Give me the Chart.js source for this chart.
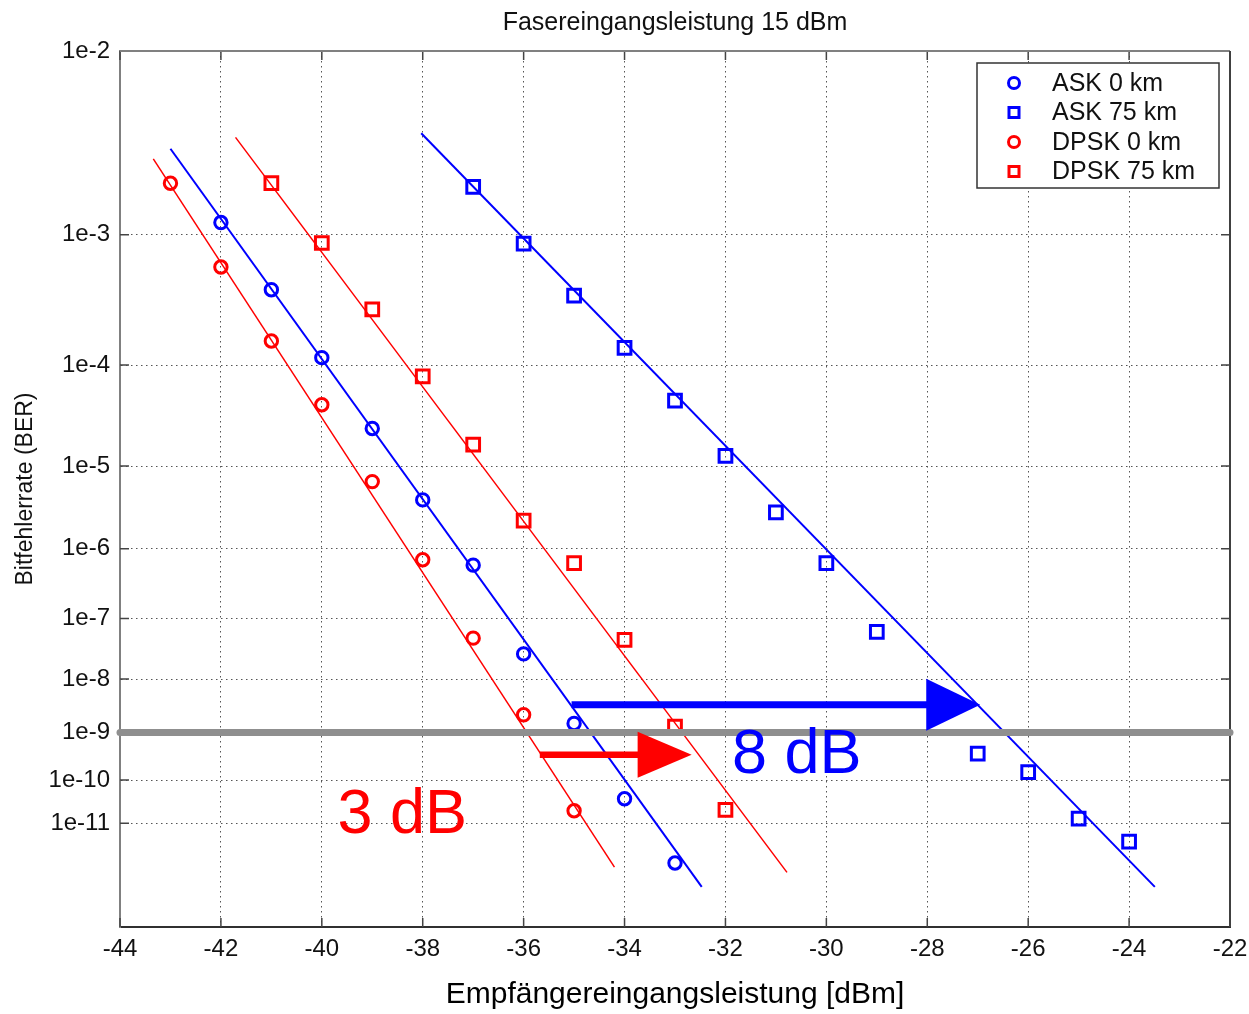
<!DOCTYPE html>
<html><head><meta charset="utf-8">
<script src="https://cdn.jsdelivr.net/npm/chart.js@4.4.1/dist/chart.umd.min.js"></script>
<style>html,body{margin:0;padding:0;background:#fff}#wrap{width:1249px;height:1014px}</style>
</head><body><div id="wrap"><canvas id="c" width="1249" height="1014"></canvas></div>
<script>
// ---------- data ----------
const seriesLabels = ['ASK 0 km', 'ASK 75 km', 'DPSK 0 km', 'DPSK 75 km'];
const askX0   = [-42, -41, -40, -39, -38, -37, -36, -35, -34, -33];
const askBer0 = [1.2e-3, 4.1e-4, 1.16e-4, 2.5e-5, 4.1e-6, 6.0e-7, 2.7e-8, 1.5e-9, 3.8e-11, 9.8e-13];
const askX75   = [-37, -36, -35, -34, -33, -32, -31, -30, -29, -27, -26, -25, -24];
const askBer75 = [2.0e-3, 8.7e-4, 3.7e-4, 1.41e-4, 4.7e-5, 1.29e-5, 2.9e-6, 6.4e-7, 6.2e-8, 3.7e-10, 1.5e-10, 1.3e-11, 3.5e-12];
const dpskX0   = [-43, -42, -41, -40, -39, -38, -37, -36, -35];
const dpskBer0 = [2.1e-3, 6.0e-4, 1.61e-4, 4.3e-5, 6.7e-6, 7.1e-7, 4.9e-8, 2.2e-9, 2.0e-11];
const dpskX75   = [-41, -40, -39, -38, -37, -36, -35, -34, -33, -32];
const dpskBer75 = [2.1e-3, 8.8e-4, 2.9e-4, 7.9e-5, 1.7e-5, 2.3e-6, 6.4e-7, 4.6e-8, 1.3e-9, 2.1e-11];
// fitted lines (start, end)
const askFitX0 = [-43.0, -32.47],  askFitBer0 = [3.3e-3, 2.2e-13];
const askFitX75 = [-38.03, -23.49], askFitBer75 = [4.0e-3, 2.2e-13];
const dpskFitX0 = [-43.34, -34.2], dpskFitBer0 = [2.9e-3, 7.6e-13];
const dpskFitX75 = [-41.71, -30.78], dpskFitBer75 = [3.8e-3, 5.5e-13];
// reference BER line
const refX = [-44, -22], refBer = [1e-9, 1e-9];
// axis
const xRange = [-44, -22];
const axisBerTop = 1e-2, axisBerBottom = 1.48e-14;
const tickBer = [1e-2, 1e-3, 1e-4, 1e-5, 1e-6, 1e-7, 1e-8, 1e-9, 1e-10, 1e-11];
const tickLabels = ['1e-2', '1e-3', '1e-4', '1e-5', '1e-6', '1e-7', '1e-8', '1e-9', '1e-10', '1e-11'];
// annotations (arrows and penalty labels)
const arrowX0 = [-35.05, -35.68];
const arrowX1 = [-26.95, -32.67];
const arrowBer = [3.4e-9, 3.5e-10];
const noteText = ['8 dB', '3 dB'];
const noteX = [-31.87, -39.69];
const noteBer = [1.44e-10, 5.8e-12];

// ---------- helpers ----------
const tf = b => Math.log10(-Math.log10(b));
const pts = (xs, bs) => xs.map((x, i) => ({ x: x, y: tf(bs[i]) }));
const BLUE = '#0000ff', RED = '#ff0000';
const FONT = "'Liberation Sans', Arial, Helvetica, sans-serif";
Chart.defaults.font.family = FONT;

const markerStyles = [
  { style: 'circle', color: BLUE }, { style: 'rect', color: BLUE },
  { style: 'circle', color: RED }, { style: 'rect', color: RED }
];

function pointDs(label, xs, bs, m) {
  return {
    label: label, data: pts(xs, bs), showLine: false,
    pointStyle: m.style, pointRadius: m.style === 'rect' ? 9 : 6.2, pointHoverRadius: m.style === 'rect' ? 9 : 6.2,
    pointBorderWidth: 3, borderColor: m.color, pointBorderColor: m.color,
    backgroundColor: 'rgba(0,0,0,0)', pointBackgroundColor: 'rgba(0,0,0,0)', order: 1
  };
}
function lineDs(xs, bs, color, w) {
  return {
    label: '_fit', data: pts(xs, bs), showLine: true, pointRadius: 0, borderColor: color,
    borderWidth: w, fill: false, order: 2
  };
}

const datasets = [
  pointDs(seriesLabels[0], askX0, askBer0, markerStyles[0]),
  pointDs(seriesLabels[1], askX75, askBer75, markerStyles[1]),
  pointDs(seriesLabels[2], dpskX0, dpskBer0, markerStyles[2]),
  pointDs(seriesLabels[3], dpskX75, dpskBer75, markerStyles[3]),
  lineDs(askFitX0, askFitBer0, BLUE, 2),
  lineDs(askFitX75, askFitBer75, BLUE, 2),
  lineDs(dpskFitX0, dpskFitBer0, RED, 1.5),
  lineDs(dpskFitX75, dpskFitBer75, RED, 1.5),
  { label: '_ref', data: pts(refX, refBer), showLine: true, pointRadius: 0, borderColor: '#8f8f8f',
    borderWidth: 7, borderCapStyle: 'round', clip: false, order: 0 }
];

// ---------- plugins ----------
const bgPlugin = {
  id: 'bg',
  beforeDraw(chart) {
    const ctx = chart.ctx; ctx.save(); ctx.fillStyle = '#fff';
    ctx.fillRect(0, 0, chart.width, chart.height); ctx.restore();
  }
};

const framePlugin = {
  id: 'frame',
  beforeDatasetsDraw(chart) {
    const { ctx, chartArea: a, scales: { x, y } } = chart;
    ctx.save();
    ctx.lineWidth = 1.5; ctx.strokeStyle = '#444';
    const L = 9;
    x.ticks.forEach(t => {
      const px = x.getPixelForValue(t.value);
      ctx.beginPath(); ctx.moveTo(px, a.bottom); ctx.lineTo(px, a.bottom - L);
      ctx.moveTo(px, a.top); ctx.lineTo(px, a.top + L); ctx.stroke();
    });
    y.ticks.forEach(t => {
      const py = y.getPixelForValue(t.value);
      ctx.beginPath(); ctx.moveTo(a.left, py); ctx.lineTo(a.left + L, py);
      ctx.moveTo(a.right, py); ctx.lineTo(a.right - L, py); ctx.stroke();
    });
    ctx.lineWidth = 2;
    ctx.strokeStyle = '#808080';
    ctx.beginPath(); ctx.moveTo(a.left, a.top); ctx.lineTo(a.right, a.top); ctx.stroke();
    ctx.strokeStyle = '#404040';
    ctx.beginPath(); ctx.moveTo(a.right, a.top); ctx.lineTo(a.right, a.bottom); ctx.stroke();
    ctx.restore();
  }
};

const annotPlugin = {
  id: 'annot',
  afterDatasetsDraw(chart) {
    const { ctx, scales: { x, y } } = chart;
    const cols = [BLUE, RED];
    const shaftW = [7, 6.5];
    const headL = 54, headH = [26, 23];
    ctx.save();
    arrowX0.forEach((_, i) => {
      const px0 = x.getPixelForValue(arrowX0[i]);
      const px1 = x.getPixelForValue(arrowX1[i]);
      const py = y.getPixelForValue(tf(arrowBer[i]));
      ctx.fillStyle = cols[i]; ctx.strokeStyle = cols[i];
      ctx.lineWidth = shaftW[i]; ctx.lineCap = 'butt';
      ctx.beginPath(); ctx.moveTo(px0, py); ctx.lineTo(px1 - headL + 2, py); ctx.stroke();
      ctx.beginPath(); ctx.moveTo(px1, py); ctx.lineTo(px1 - headL, py - headH[i]);
      ctx.lineTo(px1 - headL, py + headH[i]); ctx.closePath(); ctx.fill();
    });
    ctx.font = '63px ' + FONT; ctx.textAlign = 'left'; ctx.textBaseline = 'alphabetic';
    noteText.forEach((t, i) => {
      ctx.fillStyle = cols[i];
      ctx.fillText(t, x.getPixelForValue(noteX[i]), y.getPixelForValue(tf(noteBer[i])));
    });
    ctx.restore();
  }
};

const legendPlugin = {
  id: 'boxLegend',
  afterDraw(chart) {
    const { ctx, chartArea: a } = chart;
    const w = 242, h = 125;
    const left = a.right - 11 - w, top = a.top + 12;
    ctx.save();
    ctx.fillStyle = '#fff'; ctx.fillRect(left, top, w, h);
    ctx.lineWidth = 1.5; ctx.strokeStyle = '#333'; ctx.strokeRect(left, top, w, h);
    ctx.font = '25px ' + FONT; ctx.textBaseline = 'middle'; ctx.textAlign = 'left';
    for (let i = 0; i < 4; i++) {
      const ds = chart.data.datasets[i];
      const cy = top + 20 + i * 29.5, cx = left + 37;
      ctx.strokeStyle = ds.borderColor; ctx.lineWidth = 3;
      ctx.beginPath();
      if (ds.pointStyle === 'circle') ctx.arc(cx, cy, 5.5, 0, Math.PI * 2);
      else ctx.rect(cx - 5, cy - 5, 10, 10);
      ctx.stroke();
      ctx.fillStyle = '#111';
      ctx.fillText(ds.label, left + 75, cy + 1);
    }
    ctx.restore();
  }
};

// ---------- chart ----------
new Chart(document.getElementById('c'), {
  type: 'scatter',
  data: { datasets: datasets },
  options: {
    responsive: false, animation: false, events: [],
    layout: { padding: { left: 0, right: 19, top: 0, bottom: 0 } },
    plugins: {
      legend: { display: false }, tooltip: { enabled: false },
      title: { display: true, fullSize: false, text: 'Fasereingangsleistung 15 dBm', color: '#111',
        font: { size: 25, weight: 'normal' }, padding: { top: 8, bottom: 13 } }
    },
    scales: {
      x: {
        type: 'linear', min: xRange[0], max: xRange[1],
        ticks: { stepSize: 2, padding: 8, color: '#111', font: { size: 24 } },
        grid: { color: '#555', lineWidth: 1, drawTicks: false },
        border: { dash: [1.5, 3.5], color: '#303030', width: 2 },
        title: { display: true, text: 'Empfängereingangsleistung [dBm]', color: '#000',
          font: { size: 30 }, padding: { top: 0, bottom: 1 } },
        afterFit(s) { s.height = 87; s.paddingRight = 0; s.paddingLeft = 0; }
      },
      y: {
        type: 'linear', reverse: true, min: tf(axisBerTop), max: tf(axisBerBottom),
        afterBuildTicks(s) { s.ticks = tickBer.map(b => ({ value: tf(b) })); },
        ticks: { autoSkip: false, padding: 10, color: '#111', font: { size: 24 },
          callback: (v, i) => tickLabels[i] },
        grid: { color: '#555', lineWidth: 1, drawTicks: false },
        border: { dash: [1.5, 3.5], color: '#808080', width: 2 },
        title: { display: true, text: 'Bitfehlerrate (BER)', color: '#111',
          font: { size: 23 }, padding: { top: 12, bottom: 0 } },
        afterFit(s) { s.width = 120; }
      }
    }
  },
  plugins: [bgPlugin, framePlugin, annotPlugin, legendPlugin]
});
</script>
</body></html>
